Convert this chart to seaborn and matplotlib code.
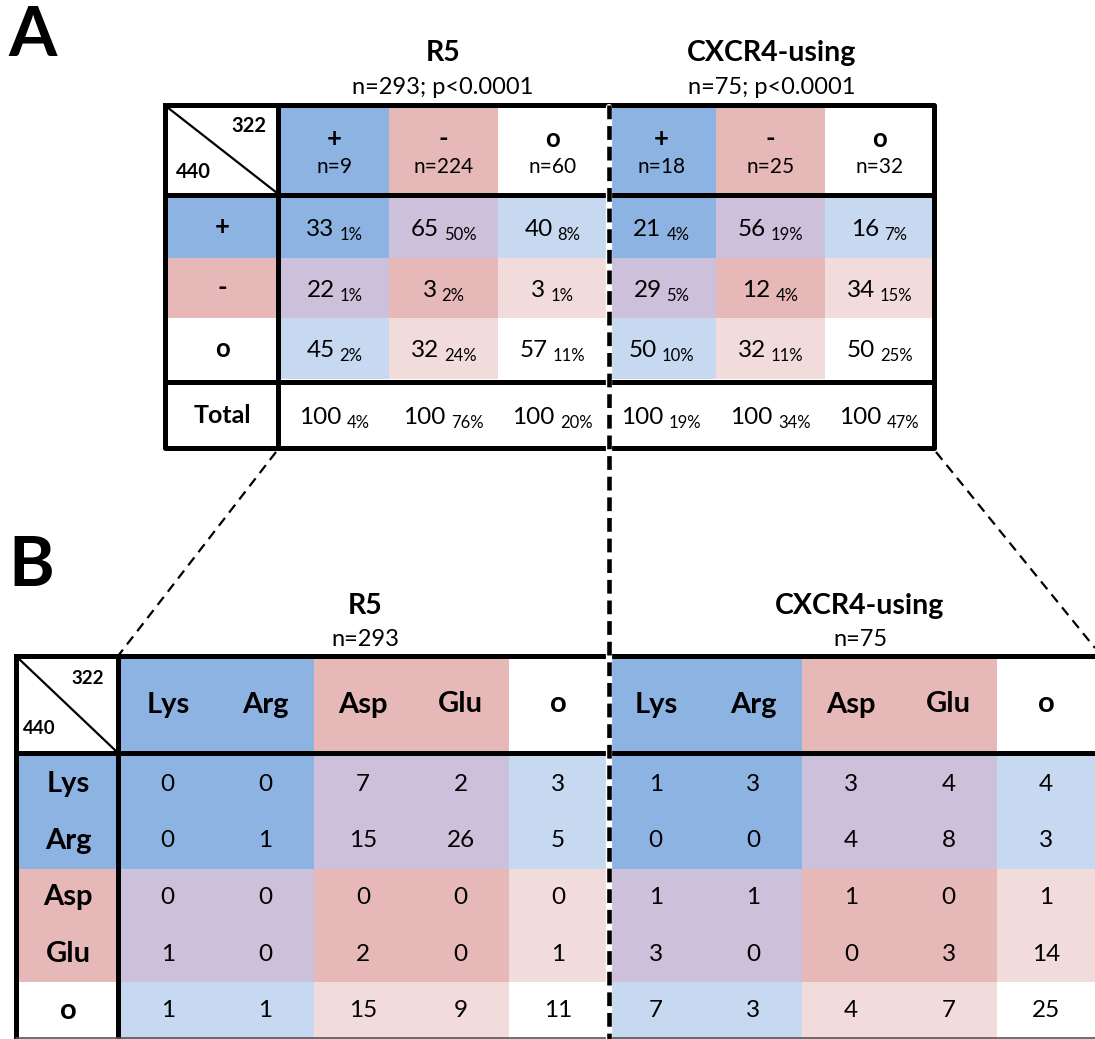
import numpy as np
import matplotlib
matplotlib.use("Agg")
import matplotlib.pyplot as plt
import seaborn as sns
from matplotlib.colors import ListedColormap

sns.set_style("white")
plt.rcParams["font.family"] = ["Lato", "DejaVu Sans"]
plt.rcParams["text.color"] = "black"

# ---- data ----
a_groups = ["+", "-", "o"]
a_r5_n = [9, 224, 60]
a_x4_n = [18, 25, 32]
a_r5_pct = [[33, 65, 40], [22, 3, 3], [45, 32, 57]]
a_r5_share = [[1, 50, 8], [1, 2, 1], [2, 24, 11]]
a_x4_pct = [[21, 56, 16], [29, 12, 34], [50, 32, 50]]
a_x4_share = [[4, 19, 7], [5, 4, 15], [10, 11, 25]]
a_total = [100, 100, 100]
a_r5_total_share = [4, 76, 20]
a_x4_total_share = [19, 34, 47]

b_residues = ["Lys", "Arg", "Asp", "Glu", "o"]
b_groups = ["+", "+", "-", "-", "o"]
b_r5 = [[0, 0, 7, 2, 3], [0, 1, 15, 26, 5], [0, 0, 0, 0, 0], [1, 0, 2, 0, 1], [1, 1, 15, 9, 11]]
b_x4 = [[1, 3, 3, 4, 4], [0, 0, 4, 8, 3], [1, 1, 1, 0, 1], [3, 0, 0, 3, 14], [7, 3, 4, 7, 25]]

# white, blue, pink, purple, light blue, light pink
palette = ["#FFFFFF", "#8DB3E2", "#E6B8B7", "#CCC0DA", "#C6D9F1", "#F2DCDB"]
cmap = ListedColormap(palette)


def tint(gr, gc):
    s = {gr, gc}
    if s == {"o"}:
        return 0
    if s == {"+"}:
        return 1
    if s == {"-"}:
        return 2
    if s == {"+", "-"}:
        return 3
    if s == {"+", "o"}:
        return 4
    return 5


W, H = 1095, 1039
fig = plt.figure(figsize=(W / 100, H / 100), dpi=100)


def px_axes(x0, y0, x1, y1):
    return fig.add_axes([x0 / W, 1 - y1 / H, (x1 - x0) / W, (y1 - y0) / H])


def heat(rect, codes):
    ax = px_axes(*rect)
    sns.heatmap(np.array(codes), ax=ax, cmap=cmap, vmin=-0.5, vmax=5.5, cbar=False,
                xticklabels=False, yticklabels=False, linewidths=0)
    ax.tick_params(length=0)
    return ax


pairs = []


def val_pct(ax, x, y, num, pct, fs=17.5, fs2=12):
    t1 = ax.annotate(str(num), (x, y), xytext=(0, -6.3), textcoords="offset points",
                     ha="left", va="baseline", fontsize=fs)
    t2 = ax.annotate(f"{pct}%", (x, y), xytext=(0, -9.2), textcoords="offset points",
                     ha="left", va="baseline", fontsize=fs2)
    pairs.append((t1, t2))


# ---------------- Table A ----------------
a_cols = a_groups + a_groups
a_n = a_r5_n + a_x4_n

ax = heat((280, 107, 934, 193), [[tint(g, g) for g in a_cols]])
for j, (g, n) in enumerate(zip(a_cols, a_n)):
    ax.text(j + 0.5, 0.37, g, ha="center", va="center", fontsize=18.5, fontweight="bold")
    ax.text(j + 0.5, 0.70, f"n={n}", ha="center", va="center", fontsize=15)

ax = heat((167, 197, 278, 379), [[tint(g, g)] for g in a_groups])
for i, g in enumerate(a_groups):
    ax.text(0.5, i + 0.5, g, ha="center", va="center", fontsize=18.5, fontweight="bold")

ax = heat((280, 197, 934, 379), [[tint(r, c) for c in a_cols] for r in a_groups])
for i in range(3):
    for j in range(3):
        val_pct(ax, j + 0.5, i + 0.5, a_r5_pct[i][j], a_r5_share[i][j])
        val_pct(ax, j + 3.5, i + 0.5, a_x4_pct[i][j], a_x4_share[i][j])

ax = heat((167, 385, 278, 446), [[0]])
ax.text(0.5, 0.5, "Total", ha="center", va="center", fontsize=18, fontweight="bold")

ax = heat((280, 385, 934, 446), [[0] * 6])
for j in range(3):
    val_pct(ax, j + 0.5, 0.5, a_total[j], a_r5_total_share[j])
    val_pct(ax, j + 3.5, 0.5, a_total[j], a_x4_total_share[j])

# ---------------- Table B ----------------
b_cols = b_groups + b_groups
ax = heat((119, 658, 1095, 751), [[tint(g, g) for g in b_cols]])
for j, name in enumerate(b_residues + b_residues):
    ax.text(j + 0.5, 0.5, name, ha="center", va="center", fontsize=21, fontweight="bold")

ax = heat((18, 756, 118, 1039), [[tint(g, g)] for g in b_groups])
for i, name in enumerate(b_residues):
    ax.text(0.5, i + 0.5, name, ha="center", va="center", fontsize=21, fontweight="bold")

ax = heat((119, 756, 1095, 1039), [[tint(r, c) for c in b_cols] for r in b_groups])
for i in range(5):
    for j in range(5):
        ax.text(j + 0.5, i + 0.5, str(b_r5[i][j]), ha="center", va="center", fontsize=17.5)
        ax.text(j + 5.5, i + 0.5, str(b_x4[i][j]), ha="center", va="center", fontsize=17.5)

# ---------------- overlay: borders, dashes, titles ----------------
ov = fig.add_axes([0, 0, 1, 1])
ov.set_zorder(10)
ov.patch.set_visible(False)
ov.set_xlim(0, W)
ov.set_ylim(H, 0)
ov.set_axis_off()

thick = dict(color="black", lw=3.6, solid_capstyle="projecting")

# table A frame
ov.plot([165, 934, 934, 165, 165], [105, 105, 448, 448, 105], **thick)
ov.plot([165, 934], [195, 195], **thick)
ov.plot([165, 934], [382, 382], **thick)
ov.plot([278, 278], [105, 448], **thick)
ov.plot([167, 277], [107, 193], color="black", lw=1.6)
ov.text(266, 126, "322", ha="right", va="center", fontsize=14.5, fontweight="bold")
ov.text(176, 172, "440", ha="left", va="center", fontsize=14.5, fontweight="bold")

# table B frame
ov.plot([16, 1095], [656, 656], **thick)
ov.plot([16, 1095], [753, 753], **thick)
ov.plot([16, 16], [656, 1039], **thick)
ov.plot([118, 118], [656, 1039], **thick)
ov.plot([16, 1095], [1038, 1038], color="#555555", lw=1.2)
ov.plot([18, 117], [658, 752], color="black", lw=1.6)
ov.text(104, 679, "322", ha="right", va="center", fontsize=13.5, fontweight="bold")
ov.text(23, 728, "440", ha="left", va="center", fontsize=13.5, fontweight="bold")

# dashed separators and connectors
ov.plot([609, 609], [107, 1039], color="white", lw=4.5)
ov.plot([609, 609], [105, 1039], color="black", lw=3.3, ls=(0, (3, 1.5)))
ov.plot([276, 118], [452, 656], color="black", lw=1.6, ls=(0, (4.5, 3)))
ov.plot([936, 1095], [452, 648], color="black", lw=1.6, ls=(0, (4.5, 3)))

# panel letters and titles
ov.text(8, 36, "A", ha="left", va="center", fontsize=50, fontweight="bold")
ov.text(8, 566, "B", ha="left", va="center", fontsize=50, fontweight="bold")

ov.text(443, 53, "R5", ha="center", va="center", fontsize=20.5, fontweight="bold")
ov.text(443, 87, "n=293; p<0.0001", ha="center", va="center", fontsize=17)
ov.text(772, 53, "CXCR4-using", ha="center", va="center", fontsize=20.5, fontweight="bold")
ov.text(772, 87, "n=75; p<0.0001", ha="center", va="center", fontsize=17)

ov.text(365, 606, "R5", ha="center", va="center", fontsize=20.5, fontweight="bold")
ov.text(365, 639, "n=293", ha="center", va="center", fontsize=17)
ov.text(860, 606, "CXCR4-using", ha="center", va="center", fontsize=20.5, fontweight="bold")
ov.text(860, 639, "n=75", ha="center", va="center", fontsize=17)

# center each "value share%" pair in its cell
fig.canvas.draw()
renderer = fig.canvas.get_renderer()
gap = 5
for t1, t2 in pairs:
    w1 = t1.get_window_extent(renderer).width
    w2 = t2.get_window_extent(renderer).width
    left = -(w1 + gap + w2) / 2
    t1.xyann = (left * 0.72, t1.xyann[1])
    t2.xyann = ((left + w1 + gap) * 0.72, t2.xyann[1])

fig.savefig("out.png", dpi=100)
